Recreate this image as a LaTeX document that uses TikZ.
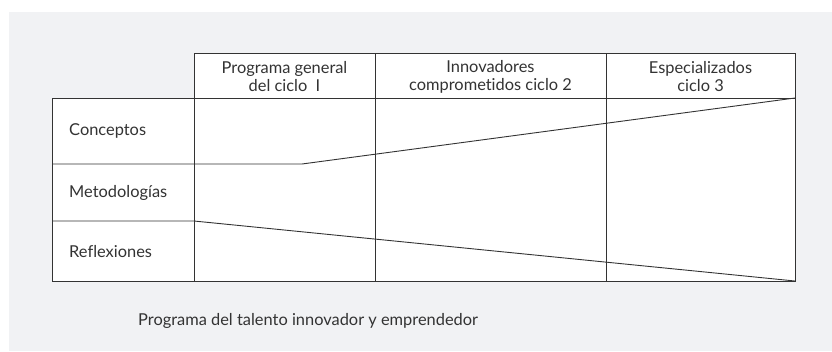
\documentclass[tikz,border=0pt]{standalone}
\usepackage{fontspec}
\setmainfont{Lato}[Ligatures=NoCommon]
\definecolor{bggray}{HTML}{F1F2F4}
\definecolor{ink}{HTML}{333333}
\tikzset{
  rule/.style={draw=ink, line width=0.9pt},
  rowlabel/.style={anchor=west, text=ink, font=\fontsize{16.4}{18}\selectfont, inner sep=0pt},
  colhead/.style={align=center, text=ink, font=\fontsize{16.4}{18}\selectfont, inner sep=0pt}
}
\begin{document}
\begin{tikzpicture}[x=1pt,y=-1pt]
\useasboundingbox (0,0) rectangle (832,351);
\fill [bggray] (9,12) rectangle (832,351);

% table corners
\coordinate (hTL) at (194,53);
\coordinate (hTR) at (795,53);
\coordinate (tTL) at (52,98);
\coordinate (tTR) at (795,98);
\coordinate (tBL) at (52,281);
\coordinate (tBR) at (795,281);
\coordinate (c1) at (194,98);
\coordinate (c2) at (375,53);
\coordinate (c3) at (606,53);

\fill [white] (hTL) rectangle (tTR);
\fill [white] (tTL) rectangle (tBR);

\draw [rule] (c1) -- (hTL) -- (hTR) -- (tBR) -- (tBL) -- (tTL) -- (tTR);
\draw [rule] (hTL) -- (194,281);
\draw [rule] (c2) -- (375,281);
\draw [rule] (c3) -- (606,281);

% the two sloping borders
\coordinate (kink) at (302,164);
\draw [rule] (52,164) -- (kink) -- (tTR);
\coordinate (split) at (194,221);
\draw [rule] (52,221) -- (split) -- (tBR);

% column heads
\node [colhead] (ciclo1) at (284.5,77) {Programa general\\del ciclo\ \ I};
\node [colhead] (ciclo2) at (490.5,77) {Innovadores\\comprometidos ciclo 2};
\node [colhead] (ciclo3) at (700.5,77) {Especializados\\ciclo 3};

% row labels
\node [rowlabel] (conceptos) at (69,131) {Conceptos};
\node [rowlabel] (metodologias) at (69,193) {Metodologías};
\node [rowlabel] (reflexiones) at (69,252) {Reflexiones};

\node [rowlabel] (titulo) at (138,321) {Programa del talento innovador y emprendedor};
\end{tikzpicture}
\end{document}
